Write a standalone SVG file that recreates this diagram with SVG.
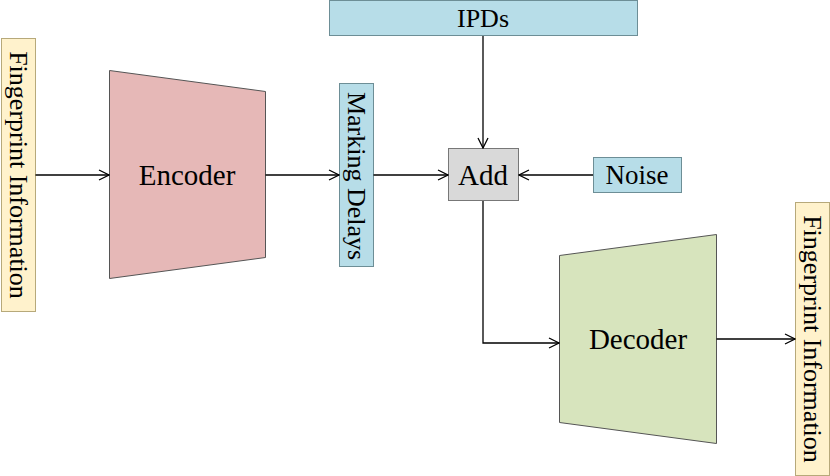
<svg xmlns="http://www.w3.org/2000/svg" width="830" height="476" viewBox="0 0 830 476">
<defs>
<style>
text{font-family:"Liberation Serif","Times New Roman",serif;fill:#000;}
.fi{fill:#fff2cc;stroke:#b7a97a;stroke-width:1;}
.blue{fill:#b7dde8;stroke:#6d8e96;stroke-width:1;}
.gray{fill:#d9d9d9;stroke:#777;stroke-width:1;}
.enc{fill:#e6b8b7;stroke:#555;stroke-width:1;}
.dec{fill:#d7e4bd;stroke:#555;stroke-width:1;}
.conn{fill:none;stroke:#000;stroke-width:1.3;marker-end:url(#arr);}
</style>
<marker id="arr" viewBox="0 0 12 12" refX="11" refY="6" markerWidth="12" markerHeight="12" markerUnits="userSpaceOnUse" orient="auto">
<path d="M1,1 L11,6 L1,11" fill="none" stroke="#000" stroke-width="1.3"/>
</marker>
</defs>
<rect width="830" height="476" fill="#fff"/>
<g id="fp-in">
<rect class="fi" x="1.5" y="38.5" width="34" height="273"/>
<text transform="translate(10,175) rotate(90)" text-anchor="middle" font-size="26">Fingerprint Information</text>
</g>
<g id="encoder">
<polygon class="enc" points="109.5,70.5 265.5,91.5 265.5,257.5 109.5,278.5"/>
<text x="187" y="185" text-anchor="middle" font-size="29">Encoder</text>
</g>
<g id="marking-delays">
<rect class="blue" x="339.5" y="83.5" width="34" height="183"/>
<text transform="translate(348,176) rotate(90)" text-anchor="middle" font-size="26">Marking Delays</text>
</g>
<g id="ipds">
<rect class="blue" x="329.5" y="0.5" width="308" height="35"/>
<text x="483" y="27" text-anchor="middle" font-size="26">IPDs</text>
</g>
<g id="add">
<rect class="gray" x="448.5" y="148.5" width="70" height="52"/>
<text x="483" y="185" text-anchor="middle" font-size="29">Add</text>
</g>
<g id="noise">
<rect class="blue" x="593.5" y="157.5" width="88" height="35"/>
<text x="637" y="184" text-anchor="middle" font-size="27">Noise</text>
</g>
<g id="decoder">
<polygon class="dec" points="559.5,255.5 716.5,234.5 716.5,443.5 559.5,422.5"/>
<text x="638" y="349" text-anchor="middle" font-size="29">Decoder</text>
</g>
<g id="fp-out">
<rect class="fi" x="795.5" y="202.5" width="34" height="273"/>
<text transform="translate(804,339) rotate(90)" text-anchor="middle" font-size="26">Fingerprint Information</text>
</g>
<g id="connectors">
<path class="conn" d="M35.5,175 L109,175"/>
<path class="conn" d="M265.5,175 L339,175"/>
<path class="conn" d="M373.5,175 L448,175"/>
<path class="conn" d="M483,36 L483,148"/>
<path class="conn" d="M593,175 L519,175"/>
<path class="conn" d="M483,201 L483,343 L559,343"/>
<path class="conn" d="M716.5,339 L795,339"/>
</g>
</svg>
